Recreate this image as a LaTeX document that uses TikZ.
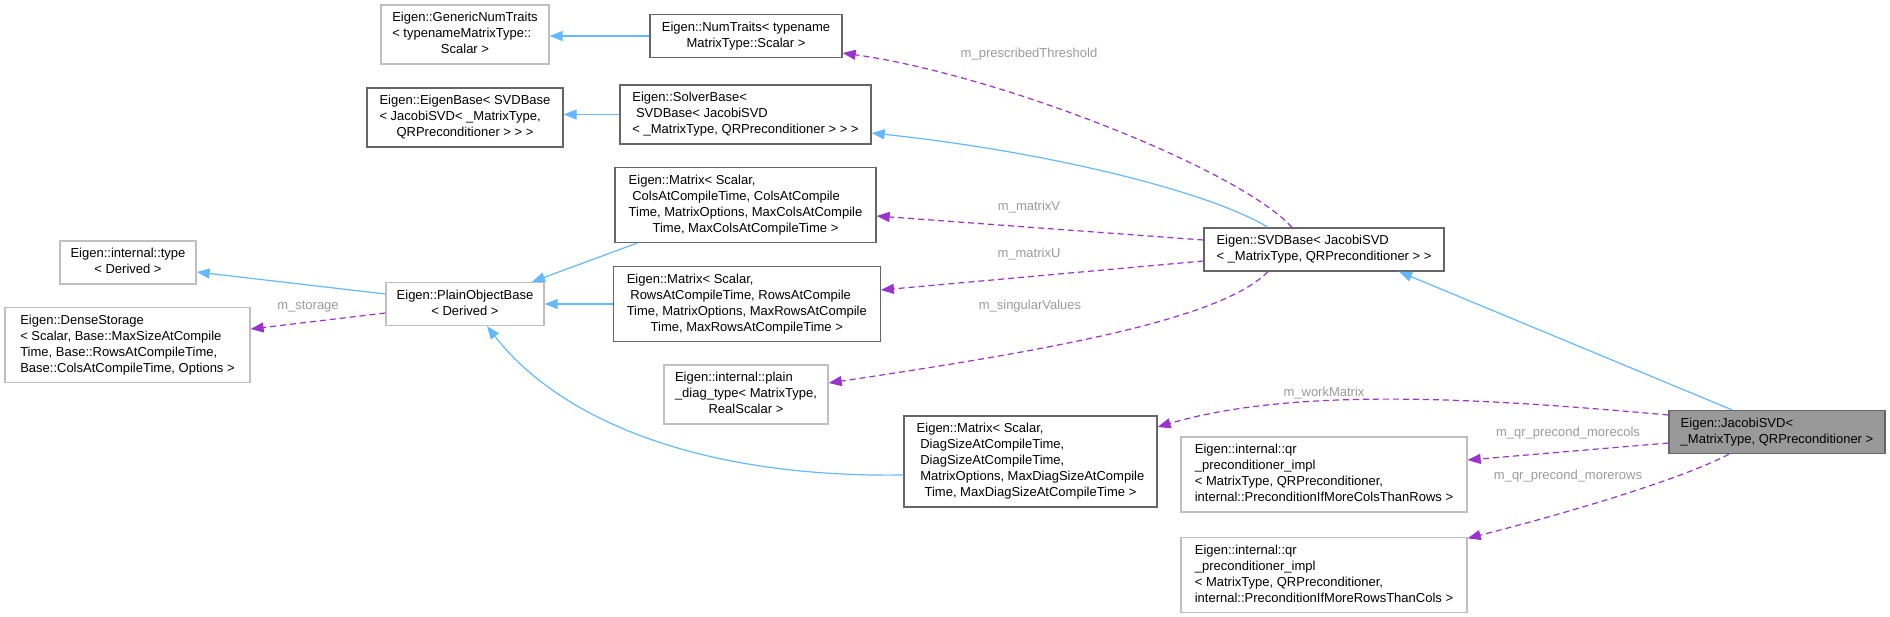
\documentclass[tikz,border=0pt]{standalone}
\usepackage{fontspec}
\setmainfont{Liberation Sans}
\usepackage{xcolor}
\usepackage{tikz}
\usetikzlibrary{arrows.meta, positioning}

\definecolor{inhblue}{HTML}{63B8FF}
\definecolor{usepurple}{HTML}{9A32CD}
\definecolor{boxdark}{HTML}{666666}
\definecolor{boxlight}{HTML}{BFBFBF}
\definecolor{focusfill}{HTML}{999999}
\definecolor{lblgray}{HTML}{9A9A9A}

% doxygen style label: lines left, last line centred
\newcommand{\dxlbl}[2]{\begin{tabular}{@{}l@{}}#1\\\multicolumn{1}{@{}c@{}}{#2}\end{tabular}}

\begin{document}
\begin{tikzpicture}[x=1pt, y=-1pt, >={Triangle[length=13pt, width=10pt]},
    font=\fontsize{13}{16}\selectfont, node distance=1cm,
    docbox/.style={draw=boxdark, line width=1.3pt, fill=white, inner xsep=7pt, inner ysep=5.5pt},
    extbox/.style={draw=boxlight, line width=1.3pt, fill=white, inner xsep=7pt, inner ysep=5.5pt},
    focusbox/.style={draw=boxdark, line width=1.3pt, fill=focusfill, inner xsep=7pt, inner ysep=5.5pt},
    inherit/.style={->, draw=inhblue, line width=1.2pt},
    member/.style={->, draw=usepurple, line width=1.2pt, dash pattern=on 6pt off 4pt},
    memlbl/.style={text=lblgray}]
  \useasboundingbox (0,0) rectangle (1890,616);

  % classes
  \node[extbox, minimum width=168pt] (gnt) at (465,34.5)
        {\dxlbl{Eigen::GenericNumTraits\\< typenameMatrixType::}{Scalar >}};
  \node[docbox, minimum width=192pt] (nt) at (746,36)
        {\dxlbl{Eigen::NumTraits< typename}{MatrixType::Scalar >}};
  \node[docbox, minimum width=196pt] (eb) at (465,117.5)
        {\dxlbl{Eigen::EigenBase< SVDBase\\< JacobiSVD< \_MatrixType,}{QRPreconditioner > > >}};
  \node[docbox, minimum width=251pt] (sb) at (745.5,114.5)
        {\dxlbl{Eigen::SolverBase<\\\ SVDBase< JacobiSVD}{< \_MatrixType, QRPreconditioner > > >}};
  \node[docbox, minimum width=261pt] (mcols) at (745.5,205)
        {\dxlbl{Eigen::Matrix< Scalar,\\\ ColsAtCompileTime, ColsAtCompile\\Time, MatrixOptions, MaxColsAtCompile}{Time, MaxColsAtCompileTime >}};
  \node[extbox, minimum width=136pt] (type) at (128,262.5)
        {\dxlbl{Eigen::internal::type}{< Derived >}};
  \node[extbox, minimum width=158pt] (pob) at (465,304)
        {\dxlbl{Eigen::PlainObjectBase}{< Derived >}};
  \node[docbox, minimum width=267pt, right=68pt of pob] (mrows)
        {\dxlbl{Eigen::Matrix< Scalar,\\\ RowsAtCompileTime, RowsAtCompile\\Time, MatrixOptions, MaxRowsAtCompile}{Time, MaxRowsAtCompileTime >}};
  \node[extbox, minimum width=245pt] (ds) at (127.5,345)
        {\dxlbl{Eigen::DenseStorage\\< Scalar, Base::MaxSizeAtCompile\\Time, Base::RowsAtCompileTime,}{Base::ColsAtCompileTime, Options >}};
  \node[extbox, minimum width=164pt] (pdt) at (746,394.5)
        {\dxlbl{Eigen::internal::plain\\\_diag\_type< MatrixType,}{RealScalar >}};
  \node[docbox, minimum width=240pt] (svd) at (1324,249.5)
        {\dxlbl{Eigen::SVDBase< JacobiSVD}{< \_MatrixType, QRPreconditioner > >}};
  \node[focusbox, minimum width=216pt] (jac) at (1777,432)
        {\dxlbl{Eigen::JacobiSVD<}{\_MatrixType, QRPreconditioner >}};
  \node[docbox, minimum width=253pt] (mdiag) at (1030.5,461.5)
        {\dxlbl{Eigen::Matrix< Scalar,\\\ DiagSizeAtCompileTime,\\\ DiagSizeAtCompileTime,\\\ MatrixOptions, MaxDiagSizeAtCompile}{Time, MaxDiagSizeAtCompileTime >}};
  \node[extbox, minimum width=286pt] (qrc) at (1324,474.5)
        {\dxlbl{Eigen::internal::qr\\\_preconditioner\_impl\\< MatrixType, QRPreconditioner,}{internal::PreconditionIfMoreColsThanRows >}};
  \node[extbox, minimum width=286pt, below=24pt of qrc] (qrr)
        {\dxlbl{Eigen::internal::qr\\\_preconditioner\_impl\\< MatrixType, QRPreconditioner,}{internal::PreconditionIfMoreRowsThanCols >}};

  % inheritance
  \draw[inherit] (nt.west) -- (nt.west -| gnt.east);
  \draw[inherit] (sb.west) -- (sb.west -| eb.east);
  \draw[inherit] ([xshift=-56pt]svd.north) .. controls (1210,192) and (1050,152) .. ([yshift=-18.5pt]sb.east);
  \draw[inherit] ([xshift=-45pt]jac.north) -- ([xshift=75pt]svd.south);
  \draw[inherit] ([xshift=-108.5pt]mcols.south) -- ([xshift=67pt]pob.north);
  \draw[inherit] (mrows.west) -- (pob.east);
  \draw[inherit] ([yshift=10pt]pob.west) -- ([yshift=-9.5pt]type.east);
  \draw[inherit] ([yshift=-13.5pt]mdiag.west) .. controls (700,478) and (560,420) .. ([xshift=22pt]pob.south);

  % members
  \draw[member] ([xshift=-32pt]svd.north) .. controls (1240,170) and (1000,75) .. ([yshift=-17pt]nt.east);
  \draw[member] ([yshift=9.5pt]svd.west) -- ([yshift=-11pt]mcols.east);
  \draw[member] ([yshift=-11.5pt]svd.west) -- ([yshift=14pt]mrows.east);
  \draw[member] ([xshift=-56pt]svd.south) .. controls (1220,320) and (1050,350) .. ([yshift=11.5pt]pdt.east);
  \draw[member] ([yshift=-9pt]pob.west) -- ([yshift=16pt]ds.east);
  \draw[member] ([yshift=17pt]jac.west) .. controls (1500,400) and (1300,385) .. ([yshift=34.5pt]mdiag.east);
  \draw[member] ([yshift=-11pt]jac.west) -- ([yshift=14.5pt]qrc.east);
  \draw[member] ([xshift=-48pt]jac.south) .. controls (1680,480) and (1560,515) .. ([yshift=36.5pt]qrr.east);

  \node[memlbl] (lthr) at (1029,54) {m\_prescribedThreshold};
  \node[memlbl] (lmv) at (1029,207) {m\_matrixV};
  \node[memlbl] (lmu) at (1029,254) {m\_matrixU};
  \node[memlbl] (lsing) at (1030,306) {m\_singularValues};
  \node[memlbl] (lwork) at (1324,393) {m\_workMatrix};
  \node[memlbl] (lcols) at (1568,433) {m\_qr\_precond\_morecols};
  \node[memlbl] (lrows) at (1568,476) {m\_qr\_precond\_morerows};
  \node[memlbl] (lstor) at (308,307) {m\_storage};
\end{tikzpicture}
\end{document}
